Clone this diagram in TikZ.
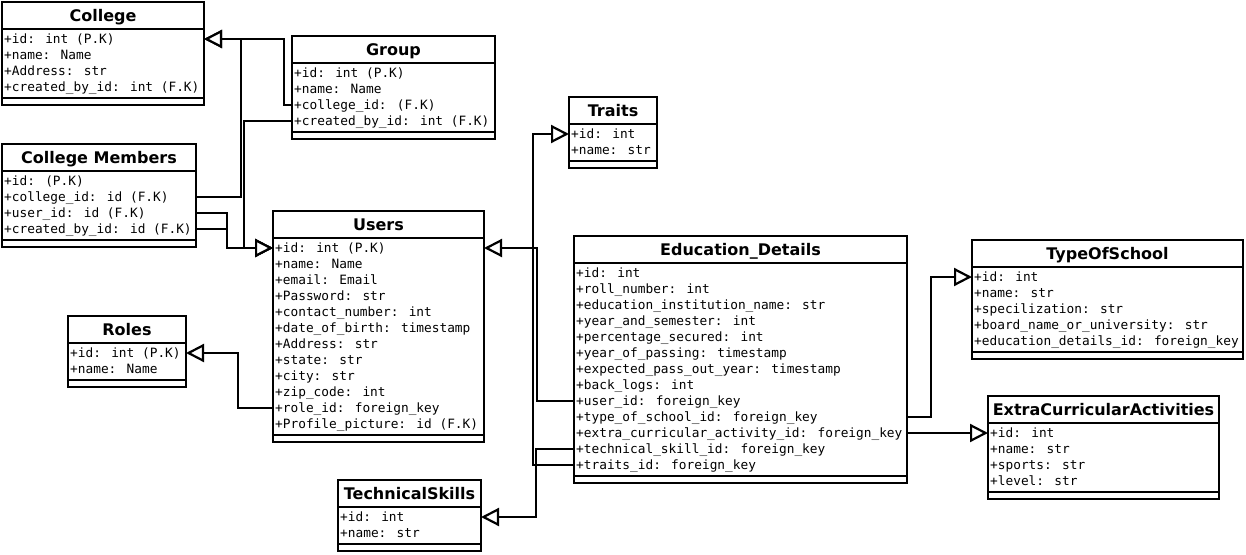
\documentclass[tikz,border=0pt]{standalone}
\usepackage{fontspec}
\usetikzlibrary{arrows.meta}
\newfontfamily\titlefont{DejaVu Sans}
\newfontfamily\attrfont{DejaVu Sans Mono}
\tikzset{
  classbox/.style={draw=black, line width=2.2pt, fill=white, inner sep=0pt, outer sep=0pt},
  sepline/.style={draw=black, line width=2.2pt},
  titletext/.style={inner sep=0pt, font=\titlefont\bfseries\fontsize{16}{19}\selectfont},
  attrtext/.style={inner sep=0pt, font=\attrfont\fontsize{12.8}{15}\selectfont},
  conn/.style={draw=black, line width=2.2pt, line join=miter,
    -{Triangle[length=18pt, width=18pt, fill=white]}},
}
\newcommand{\umlbox}[7]{%
  \pgfmathsetmacro\ubB{#3+39+16*#5}%
  \pgfmathsetmacro\ubP{\ubB-7}%
  \pgfmathsetmacro\ubW{#4-#2}%
  \pgfmathsetmacro\ubH{\ubB-#3}%
  \node[classbox, minimum width=\ubW pt, minimum height=\ubH pt, anchor=north west] (#1) at (#2,#3) {};
  \draw[sepline] (#2,{#3+27}) -- (#4,{#3+27});
  \draw[sepline] (#2,\ubP) -- (#4,\ubP);
  \node[titletext, anchor=base] (#1-title) at ({(#2+#4)/2},{#3+19.5}) {#6};
  \foreach \a [count=\i] in {#7} {
    \pgfmathsetmacro\ubY{#3+37+16*(\i-1)}
    \node[attrtext, anchor=base west] (#1-a\i) at ({#2+2},{\ubY+4.5}) {\a};
    \coordinate (#1-L\i) at (#2,\ubY);
    \coordinate (#1-R\i) at (#4,\ubY);
  }%
}
\begin{document}
\begin{tikzpicture}[x=1pt, y=-1pt]
\fill[white] (0,0) rectangle (1246,554);
\useasboundingbox (0,0) rectangle (1246,554);

\umlbox{college}{2}{2}{204}{4}{College}{+id: int (P.K), +name: Name, +Address: str, +created\_by\_id: int (F.K)}
\umlbox{group}{292}{36}{495}{4}{Group}{+id: int (P.K), +name: Name, +college\_id: (F.K), +created\_by\_id: int (F.K)}
\umlbox{cm}{2}{144}{196}{4}{College Members}{+id: (P.K), +college\_id: id (F.K), +user\_id: id (F.K), +created\_by\_id: id (F.K)}
\umlbox{users}{273}{211}{484}{12}{Users}{+id: int (P.K), +name: Name, +email: Email, +Password: str, +contact\_number: int, +date\_of\_birth: timestamp, +Address: str, +state: str, +city: str, +zip\_code: int, +role\_id: foreign\_key, +Profile\_picture: id (F.K)}
\umlbox{roles}{68}{316}{186}{2}{Roles}{+id: int (P.K), +name: Name}
\umlbox{traits}{569}{97}{657}{2}{Traits}{+id: int, +name: str}
\umlbox{ts}{338}{480}{481}{2}{TechnicalSkills}{+id: int, +name: str}
\umlbox{ed}{574}{236}{907}{13}{Education\_Details}{+id: int, +roll\_number: int, +education\_institution\_name: str, +year\_and\_semester: int, +percentage\_secured: int, +year\_of\_passing: timestamp, +expected\_pass\_out\_year: timestamp, +back\_logs: int, +user\_id: foreign\_key, +type\_of\_school\_id: foreign\_key, +extra\_curricular\_activity\_id: foreign\_key, +technical\_skill\_id: foreign\_key, +traits\_id: foreign\_key}
\umlbox{tos}{972}{240}{1243}{5}{TypeOfSchool}{+id: int, +name: str, +specilization: str, +board\_name\_or\_university: str, +education\_details\_id: foreign\_key}
\umlbox{eca}{988}{396}{1219}{4}{ExtraCurricularActivities}{+id: int, +name: str, +sports: str, +level: str}

% connectors
\draw[conn] (group-L3) -- ++(-8,0) |- (college-R1);
\draw[conn] (cm-R2) -- ++(45,0) |- (college-R1);
\draw[conn] (group-L4) -- ++(-48,0) |- (users-L1);
\draw[conn] (cm-R3) -- ++(31,0) |- (users-L1);
\draw[conn] (cm-R4) -- ++(31,0) |- (users-L1);
\draw[conn] (users-L11) -- ++(-35,0) |- (roles-R1);
\draw[conn] (ed-L9) -- ++(-37,0) |- (users-R1);
\draw[conn] (ed-L13) -- ++(-41,0) |- (traits-L1);
\draw[conn] (ed-L12) -- ++(-38,0) |- (ts-R1);
\draw[conn] (ed-R10) -- ++(24,0) |- (tos-L1);
\draw[conn] (ed-R11) -- (eca-L1);
\end{tikzpicture}
\end{document}
